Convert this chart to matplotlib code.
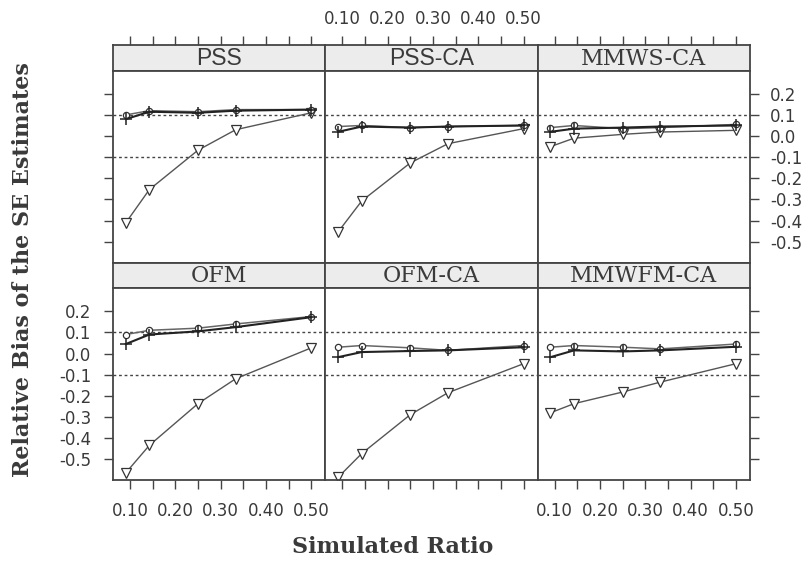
import matplotlib
matplotlib.use("Agg")
import matplotlib.pyplot as plt
import numpy as np

# datos
ratio = [1 / 11, 1 / 7, 1 / 4, 1 / 3, 1 / 2]
paneles = ["PSS", "PSS-CA", "MMWS-CA", "OFM", "OFM-CA", "MMWFM-CA"]

circ = {
    "PSS":      [0.10, 0.12, 0.115, 0.125, 0.125],
    "PSS-CA":   [0.045, 0.05, 0.04, 0.045, 0.05],
    "MMWS-CA":  [0.04, 0.05, 0.035, 0.04, 0.055],
    "OFM":      [0.09, 0.11, 0.12, 0.14, 0.175],
    "OFM-CA":   [0.03, 0.038, 0.027, 0.015, 0.038],
    "MMWFM-CA": [0.03, 0.038, 0.03, 0.022, 0.045],
}
plus = {
    "PSS":      [0.08, 0.115, 0.11, 0.12, 0.125],
    "PSS-CA":   [0.02, 0.045, 0.04, 0.045, 0.05],
    "MMWS-CA":  [0.02, 0.035, 0.04, 0.045, 0.05],
    "OFM":      [0.045, 0.09, 0.105, 0.125, 0.172],
    "OFM-CA":   [-0.017, 0.007, 0.012, 0.015, 0.03],
    "MMWFM-CA": [-0.017, 0.015, 0.01, 0.015, 0.032],
}
tri = {
    "PSS":      [-0.41, -0.253, -0.067, 0.03, 0.11],
    "PSS-CA":   [-0.453, -0.307, -0.127, -0.036, 0.035],
    "MMWS-CA":  [-0.05, -0.01, 0.008, 0.019, 0.027],
    "OFM":      [-0.564, -0.434, -0.237, -0.119, 0.027],
    "OFM-CA":   [-0.585, -0.473, -0.289, -0.185, -0.048],
    "MMWFM-CA": [-0.28, -0.237, -0.182, -0.135, -0.048],
}
xticks_all = np.arange(0.10, 0.501, 0.05)
xlab = [f"{v:.2f}" if i % 2 == 0 else "" for i, v in enumerate(xticks_all)]
yticks = [0.2, 0.1, 0.0, -0.1, -0.2, -0.3, -0.4, -0.5]

W, H = 803, 570
fig = plt.figure(figsize=(W / 100, H / 100), dpi=100)

izq, der, arr_, aba = 113, 750, 45, 480
colw = (der - izq) / 3
filah = (aba - arr_) / 2
striph = 25.5
gris = "#444444"
txt = "#3a3a3a"
sans = "Liberation Sans"
serif = "DejaVu Serif"
tk = dict(direction="out", length=6.5, width=1, color=gris, labelsize=12,
          labelcolor=txt)


def caja(x0, y0, w, h):
    return [x0 / W, 1 - (y0 + h) / H, w / W, h / H]


for k, nom in enumerate(paneles):
    fila, col = divmod(k, 3)
    x0 = izq + col * colw
    y0 = arr_ + fila * filah
    # tira con el nombre
    st = fig.add_axes(caja(x0, y0, colw, striph))
    st.set_facecolor("#ececec")
    st.set_xlim(0.0626, 0.531)
    st.set_yticks([])
    for s in st.spines.values():
        s.set_color(gris)
        s.set_linewidth(1.3)
    if nom in ("PSS", "PSS-CA"):
        st.text(0.5, 0.47, nom, transform=st.transAxes, ha="center",
                va="center", fontsize=16.5, family=sans, color=txt)
    else:
        st.text(0.5, 0.47, nom, transform=st.transAxes, ha="center",
                va="center", fontsize=16, family=serif, color=txt)
    if fila == 0:
        st.set_xticks(xticks_all)
        st.tick_params(axis="x", top=True, bottom=False, labeltop=(col == 1),
                       labelbottom=False, pad=6, **tk)
        st.set_xticklabels(xlab if col == 1 else [""] * len(xlab))
    else:
        st.set_xticks([])

    ax = fig.add_axes(caja(x0, y0 + striph, colw, filah - striph))
    ax.set_xlim(0.0626, 0.531)
    ax.set_ylim(-0.598, 0.31)
    for s in ax.spines.values():
        s.set_color(gris)
        s.set_linewidth(1.3)

    for yv in (0.1, -0.1):
        ax.axhline(yv, color=gris, lw=1, ls=(0, (2, 2)))

    ax.plot(ratio, tri[nom], color="#555555", lw=1, marker="v", ms=7,
            mfc="white", mec="#333333", mew=0.9)
    ax.plot(ratio, circ[nom], color="#666666", lw=1.1, marker="o", ms=4.5,
            mfc="white", mec="#333333", mew=0.9)
    ax.plot(ratio, plus[nom], color="#222222", lw=1.5, marker="+", ms=8,
            mec="#222222", mew=1.1)

    # ejes y: izquierda etiquetada abajo, derecha etiquetada arriba
    ax.set_yticks(yticks)
    ax.tick_params(axis="y", left=(col == 0), right=(col == 2),
                   labelleft=(col == 0 and fila == 1),
                   labelright=(col == 2 and fila == 0),
                   pad=(9 if col == 0 else 8), **tk)
    ax.set_yticklabels([f"{v:.1f}" for v in yticks])

    ax.set_xticks(xticks_all)
    if fila == 1:
        ax.tick_params(axis="x", top=False, bottom=True, pad=9.5, **tk)
        ax.set_xticklabels(xlab if col != 1 else [""] * len(xlab))
    else:
        ax.tick_params(axis="x", bottom=False, labelbottom=False)

fig.text(23 / W, 1 - 270 / H, "Relative Bias of the SE Estimates",
         rotation=90, ha="center", va="center", fontsize=16,
         fontweight="bold", family=serif, color=txt)
fig.text(393 / W, 1 - 547 / H, "Simulated Ratio", ha="center",
         va="center", fontsize=16, fontweight="bold", family=serif,
         color=txt)

fig.savefig("out.png", dpi=100)
